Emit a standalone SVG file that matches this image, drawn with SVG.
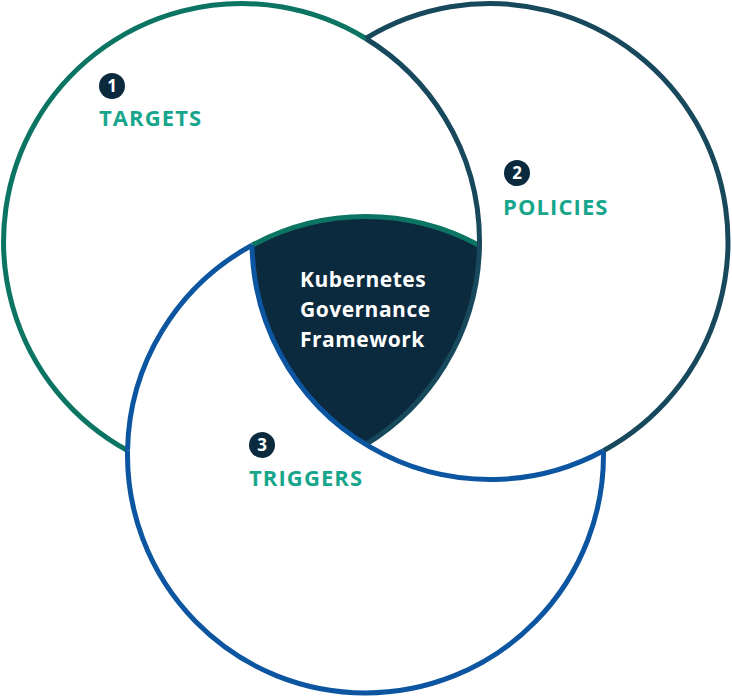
<svg xmlns="http://www.w3.org/2000/svg" width="732" height="698" viewBox="0 0 732 698">
  <style>
    .ring { fill: none; stroke-width: 5; stroke-linecap: butt; }
    .green { stroke: #0b7462; }
    .navy { stroke: #17485c; }
    .blue { stroke: #0c55a0; }
    .badge { fill: #0c2a3e; }
    .num { font-family: "Open Sans", "Liberation Sans", sans-serif; font-weight: 700; font-size: 17px; fill: #ffffff; text-anchor: middle; }
    .label { font-family: "Open Sans", "Liberation Sans", sans-serif; font-weight: 700; font-size: 22px; fill: #17a68c; letter-spacing: 1.1px; }
    .core { font-family: "Open Sans", "Liberation Sans", sans-serif; font-weight: 700; font-size: 21px; fill: #ffffff; letter-spacing: 0.5px; }
  </style>
  <rect width="732" height="698" fill="#ffffff"/>

  <g id="core">
    <path d="M 252.04 245.29 A 238 238 0 0 1 479.46 245.56 A 238 238 0 0 1 365.75 444.5 A 238 238 0 0 1 252.04 245.29 Z" fill="#0c2a3e"/>
  </g>

  <g id="connectors">
    <path class="ring green" d="M 365.75 38.5 A 238 238 0 1 0 127.54 450.44"/>
    <path class="ring green" d="M 252.04 245.29 A 238 238 0 0 1 479.46 245.56"/>
    <path class="ring navy" d="M 365.75 444.5 A 238 238 0 0 0 365.75 38.5"/>
    <path class="ring navy" d="M 365.75 38.5 A 238 238 0 1 1 603.46 450.71"/>
    <path class="ring blue" d="M 127.54 450.44 A 238 238 0 0 1 252.04 245.29"/>
    <path class="ring blue" d="M 603.46 450.71 A 238 238 0 1 1 127.54 450.44"/>
    <path class="ring blue" d="M 603.46 450.71 A 238 238 0 0 1 252.04 245.29"/>
  </g>

  <g id="core-label">
    <text class="core" x="300" y="287">Kubernetes</text>
    <text class="core" x="300" y="317">Governance</text>
    <text class="core" x="300" y="347">Framework</text>
  </g>

  <g id="targets">
    <circle class="badge" cx="112" cy="86" r="13"/>
    <text class="num" x="112" y="92">1</text>
    <text class="label" x="99" y="126">TARGETS</text>
  </g>

  <g id="policies">
    <circle class="badge" cx="517" cy="173" r="13"/>
    <text class="num" x="517" y="179">2</text>
    <text class="label" x="503" y="215">POLICIES</text>
  </g>

  <g id="triggers">
    <circle class="badge" cx="262" cy="445" r="13"/>
    <text class="num" x="262" y="451">3</text>
    <text class="label" x="249" y="486">TRIGGERS</text>
  </g>
</svg>
